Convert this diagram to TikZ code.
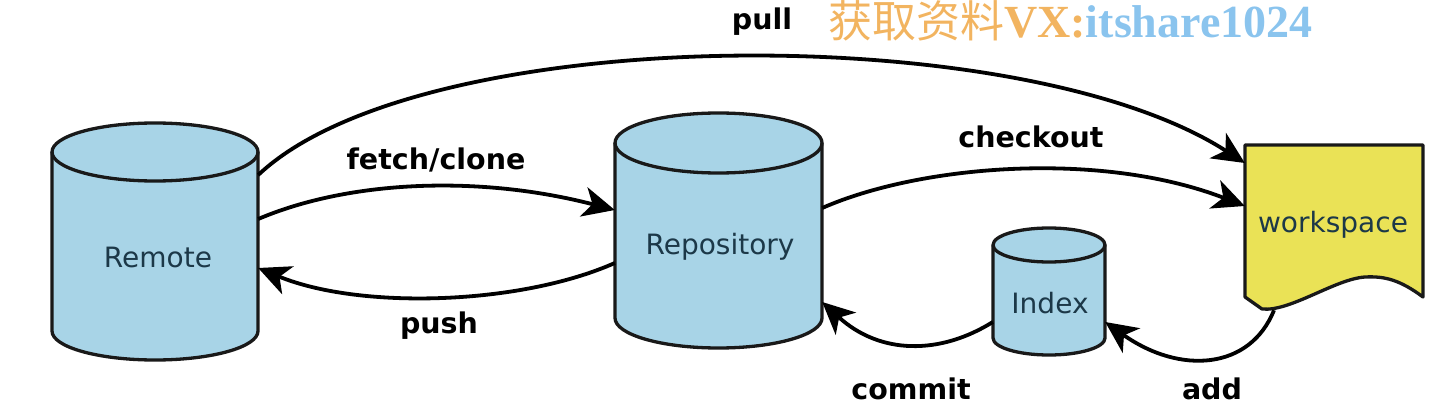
\documentclass[tikz,border=0pt]{standalone}
\usepackage{fontspec}
\setmainfont{DejaVu Sans}
\newfontfamily\cjk{Noto Sans CJK SC}
\newfontfamily\wmfont{Liberation Serif}
\usetikzlibrary{arrows.meta}
\definecolor{storeblue}{RGB}{168,212,231}
\definecolor{workyellow}{RGB}{234,226,86}
\definecolor{storeink}{RGB}{28,56,72}
\definecolor{wmorange}{RGB}{242,180,96}
\definecolor{wmblue}{RGB}{138,196,238}
\tikzset{
  storeline/.style={draw=black!90, line width=3.3pt, line join=round, fill=storeblue},
  bodybox/.style={inner sep=0pt, draw=none},
  storetext/.style={font=\fontsize{28}{32}\selectfont, text=storeink},
  flow/.style={line width=3.8pt, -{Stealth[length=32pt,width=30pt,inset=9pt]}},
  flowlabel/.style={font=\fontsize{28.5}{32}\selectfont\bfseries},
}
\newcommand{\gitstore}[5]{%
  \filldraw[storeline] (#1-#4,#2-#5) -- (#1-#4,#3+#5) arc[start angle=180,end angle=360,x radius=#4,y radius=#5]
    -- (#1+#4,#2-#5) arc[start angle=0,end angle=180,x radius=#4,y radius=#5] -- cycle;
  \draw[storeline, fill=none] (#1-#4,#2-#5) arc[start angle=180,end angle=360,x radius=#4,y radius=#5];
}

\begin{document}
\begin{tikzpicture}[x=1pt,y=1pt]
\useasboundingbox (0,0) rectangle (1450,-406);
\gitstore{155}{-123}{-360}{103}{29}
\gitstore{718.5}{-113}{-348}{103.5}{30}
\gitstore{1049}{-228}{-355}{56}{17}
\filldraw[storeline, fill=workyellow] (1245,-145) -- (1423,-145) -- (1423,-297)
  .. controls (1400,-280) and (1385,-276) .. (1365,-277)
  .. controls (1335,-279) and (1290,-312) .. (1262,-309) -- (1245,-297) -- cycle;

\node[bodybox, minimum width=206pt, minimum height=237pt] (remote) at (155,-241.5) {};
\node[bodybox, minimum width=207pt, minimum height=235pt] (repo) at (718.5,-230.5) {};
\node[bodybox, minimum width=112pt, minimum height=127pt] (index) at (1049,-291.5) {};
\node[bodybox, minimum width=178pt, minimum height=153pt] (work) at (1334,-221.5) {};
\node[storetext] (remote-txt) at (158,-257) {Remote};
\node[storetext] (repo-txt) at (720,-247) {Repository};
\node[storetext] (index-txt) at (1050,-303) {Index};
\node[storetext] (work-txt) at (1333,-225) {workspace};

\draw[flow] ([yshift=66.5pt]remote.east) .. controls (420,-22) and (1020,-18) .. ([yshift=58.5pt]work.west);
\draw[flow] ([yshift=22.5pt]remote.east) .. controls (350,-180) and (480,-175) .. ([yshift=20.5pt]repo.west);
\draw[flow] ([yshift=-32.5pt]repo.west) .. controls (520,-305) and (360,-310) .. ([yshift=-26.5pt]remote.east);
\draw[flow] ([yshift=22.5pt]repo.east) .. controls (920,-165) and (1100,-150) .. ([yshift=15.5pt]work.west);
\draw[flow] ([yshift=-30.5pt]index.west) .. controls (940,-355) and (880,-355) .. ([yshift=-71.5pt]repo.east);
\draw[flow] ([xshift=-60pt,yshift=-12pt]work.south) .. controls (1250,-370) and (1180,-375) .. ([yshift=-30.5pt]index.east);

\node[flowlabel] (pull) at (762,-22) {pull};
\node[flowlabel] (fetch) at (436,-160) {fetch/clone};
\node[flowlabel] (checkout) at (1031,-137) {checkout};
\node[flowlabel] (push) at (439,-326) {push};
\node[flowlabel] (commit) at (911,-389) {commit};
\node[flowlabel] (add) at (1212,-389) {add};
\node[anchor=west, inner sep=0pt] (wm) at (828,-21) {\cjk\fontsize{44}{48}\selectfont\color{wmorange}获取资料\wmfont\bfseries\fontsize{46}{48}\selectfont VX:\color{wmblue}itshare1024};
\end{tikzpicture}
\end{document}
